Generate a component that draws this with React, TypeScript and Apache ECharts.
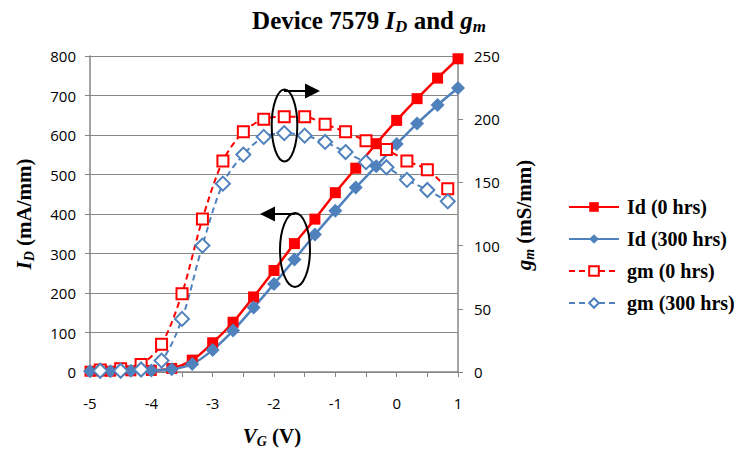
import React, { useEffect, useRef } from "react";
import * as echarts from "echarts";

// Gate voltage for drain current points (V)
const vgId = [-5, -4.667, -4.333, -4, -3.667, -3.333, -3, -2.667, -2.333, -2, -1.667, -1.333, -1, -0.667, -0.333, 0, 0.333, 0.667, 1];
// Drain current (mA/mm)
const id0 = [2, 2, 3, 4, 9, 30, 74, 126, 190, 257, 325, 387, 454, 516, 578, 637, 692, 744, 793];
const id300 = [2, 2, 3, 4, 7, 20, 56, 105, 163, 223, 285, 348, 408, 467, 521, 577, 629, 676, 719];
// Gate voltage for transconductance points (V)
const vgGm = [-4.833, -4.5, -4.167, -3.833, -3.5, -3.167, -2.833, -2.5, -2.167, -1.833, -1.5, -1.167, -0.833, -0.5, -0.167, 0.167, 0.5, 0.833];
// Transconductance (mS/mm)
const gm0 = [1.5, 2.5, 6, 22, 62, 121, 167, 190, 200, 202, 202, 196, 190, 183, 176, 167, 160, 145];
const gm300 = [1, 1, 2, 9, 42, 100, 149, 172, 186, 189, 187, 182, 174, 166, 162, 152, 144, 135];

const seriesNames = ["Id (0 hrs)", "Id (300 hrs)", "gm (0 hrs)", "gm (300 hrs)"];
const RED = "#FF0000";
const BLUE = "#4F81BD";
const AXIS = "#868686";
const SERIF = "'Liberation Serif', 'Times New Roman', serif";
const SANS = "'Open Sans', 'Liberation Sans', sans-serif";

export default function App() {
  const ref = useRef<HTMLDivElement>(null);
  useEffect(() => {
    document.body.style.margin = "0";
    const chart = echarts.init(ref.current!, null, { renderer: "svg" });

    const richBase = (size: number, sub: number) => ({
      b: { fontFamily: SERIF, fontWeight: "bold", fontSize: size, lineHeight: size + 4, verticalAlign: "middle", color: "#000" },
      i: { fontFamily: SERIF, fontWeight: "bold", fontStyle: "italic", fontSize: size, lineHeight: size + 4, verticalAlign: "middle", color: "#000" },
      s: { fontFamily: SERIF, fontWeight: "bold", fontStyle: "italic", fontSize: sub, lineHeight: sub, verticalAlign: "bottom", color: "#000" },
    });

    chart.setOption({
      animation: false,
      backgroundColor: "#fff",
      grid: { left: 90, right: 276, top: 56, bottom: 82 },
      xAxis: {
        type: "value",
        min: -5,
        max: 1,
        interval: 0.5,
        axisLine: { show: true, onZero: false, lineStyle: { color: AXIS, width: 1.5 } },
        axisTick: { show: true, length: 5, lineStyle: { color: AXIS } },
        splitLine: { show: false },
        axisLabel: {
          margin: 23,
          fontFamily: SANS,
          fontSize: 15,
          color: "#000",
          formatter: (v: number) => (Number.isInteger(v) ? String(v) : ""),
        },
      },
      yAxis: [
        {
          type: "value",
          min: 0,
          max: 800,
          interval: 100,
          position: "left",
          axisLine: { show: true, onZero: false, lineStyle: { color: AXIS, width: 1.5 } },
          axisTick: { show: true, length: 5, lineStyle: { color: AXIS } },
          splitLine: { show: true, lineStyle: { color: AXIS, width: 1 } },
          axisLabel: { margin: 14, fontFamily: SANS, fontSize: 15, color: "#000" },
        },
        {
          type: "value",
          min: 0,
          max: 250,
          interval: 50,
          position: "right",
          axisLine: { show: true, onZero: false, lineStyle: { color: AXIS, width: 1.5 } },
          axisTick: { show: true, length: 5, lineStyle: { color: AXIS } },
          splitLine: { show: false },
          axisLabel: { margin: 16, fontFamily: SANS, fontSize: 15, color: "#000" },
        },
      ],
      legend: {
        orient: "vertical",
        left: 563,
        top: 192,
        itemWidth: 50,
        itemHeight: 12,
        itemGap: 12,
        data: seriesNames,
        textStyle: { fontFamily: SERIF, fontWeight: "bold", fontSize: 20, color: "#000", padding: [0, 0, 0, 3] },
      },
      series: [
        {
          name: seriesNames[0],
          type: "line",
          yAxisIndex: 0,
          smooth: 0.3,
          symbol: "rect",
          symbolSize: 11,
          color: RED,
          lineStyle: { color: RED, width: 2.5 },
          itemStyle: { color: RED },
          data: vgId.map((v, i) => [v, id0[i]]),
        },
        {
          name: seriesNames[1],
          type: "line",
          yAxisIndex: 0,
          smooth: 0.3,
          symbol: "diamond",
          symbolSize: 14,
          color: BLUE,
          lineStyle: { color: BLUE, width: 2.5 },
          itemStyle: { color: BLUE },
          data: vgId.map((v, i) => [v, id300[i]]),
        },
        {
          name: seriesNames[2],
          type: "line",
          yAxisIndex: 1,
          smooth: 0.3,
          symbol: "emptyRect",
          symbolSize: 11,
          color: RED,
          lineStyle: { color: RED, width: 2, type: [6, 4] },
          itemStyle: { color: RED, borderColor: RED, borderWidth: 2 },
          data: vgGm.map((v, i) => [v, gm0[i]]),
        },
        {
          name: seriesNames[3],
          type: "line",
          yAxisIndex: 1,
          smooth: 0.3,
          symbol: "emptyDiamond",
          symbolSize: 14,
          color: BLUE,
          lineStyle: { color: BLUE, width: 2, type: [6, 4] },
          itemStyle: { color: BLUE, borderColor: BLUE, borderWidth: 2 },
          data: vgGm.map((v, i) => [v, gm300[i]]),
        },
      ],
      graphic: [
        {
          type: "text",
          x: 369,
          y: 20,
          style: {
            text: "{b|Device 7579 }{i|I}{s|D}{b| and }{i|g}{s|m}",
            align: "center",
            verticalAlign: "middle",
            rich: richBase(25, 17),
          },
        },
        {
          type: "text",
          x: 24,
          y: 214,
          rotation: Math.PI / 2,
          style: {
            text: "{i|I}{s|D}{b| (mA/mm)}",
            align: "center",
            verticalAlign: "middle",
            rich: richBase(21, 14),
          },
        },
        {
          type: "text",
          x: 524,
          y: 215,
          rotation: Math.PI / 2,
          style: {
            text: "{i|g}{s|m}{b| (mS/mm)}",
            align: "center",
            verticalAlign: "middle",
            rich: richBase(21, 14),
          },
        },
        {
          type: "text",
          x: 272,
          y: 436,
          style: {
            text: "{i|V}{s|G}{b| (V)}",
            align: "center",
            verticalAlign: "middle",
            rich: richBase(21, 14),
          },
        },
        // Annotation: ellipse around gm peaks with arrow to right axis
        {
          type: "ellipse",
          shape: { cx: 284.5, cy: 125.5, rx: 12.8, ry: 36 },
          style: { fill: "none", stroke: "#000", lineWidth: 2 },
          z: 100,
        },
        {
          type: "line",
          shape: { x1: 284, y1: 91, x2: 307, y2: 91 },
          style: { stroke: "#000", lineWidth: 2 },
          z: 100,
        },
        {
          type: "polygon",
          shape: { points: [[305, 83.5], [320, 91], [305, 98.5]] },
          style: { fill: "#000" },
          z: 100,
        },
        // Annotation: ellipse around Id curves with arrow to left axis
        {
          type: "ellipse",
          shape: { cx: 295, cy: 250, rx: 15, ry: 37 },
          style: { fill: "none", stroke: "#000", lineWidth: 2 },
          z: 100,
        },
        {
          type: "line",
          shape: { x1: 295, y1: 214, x2: 273, y2: 214 },
          style: { stroke: "#000", lineWidth: 2 },
          z: 100,
        },
        {
          type: "polygon",
          shape: { points: [[275, 206.5], [260, 214], [275, 221.5]] },
          style: { fill: "#000" },
          z: 100,
        },
      ],
    });
    return () => chart.dispose();
  }, []);
  return <div ref={ref} style={{ width: 734, height: 454 }} />;
}
